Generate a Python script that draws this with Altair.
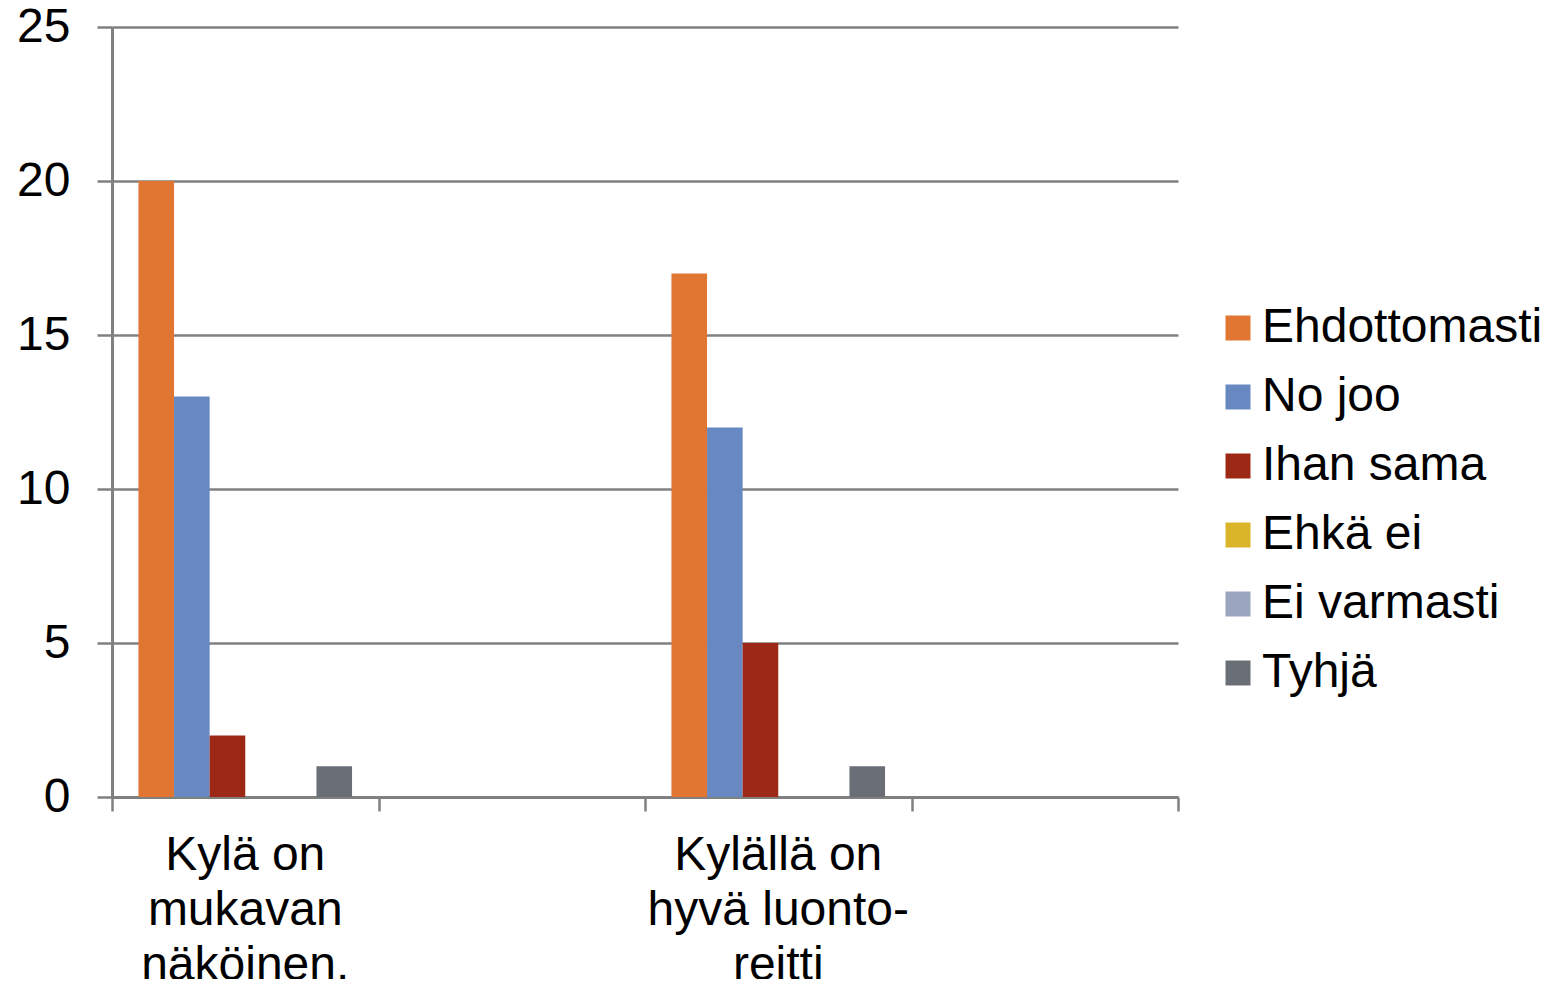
import altair as alt
import pandas as pd

# Category slots (two empty slots as in the original Excel chart), lines split by "|"
categories = ["Kylä on|mukavan|näköinen.", " ", "Kylällä on|hyvä luonto-|reitti", "  "]
series = ["Ehdottomasti", "No joo", "Ihan sama", "Ehkä ei", "Ei varmasti", "Tyhjä"]
colors = ["#E07632", "#6888C1", "#9E2816", "#DAB52A", "#9BA5BF", "#6A6F77"]
values_cat1 = [20, 13, 2, 0, 0, 1]
values_cat2 = [17, 12, 5, 0, 0, 1]
slot_edges = [0, 1, 2, 3, 4]

rows = []
for s, v in zip(series, values_cat1):
    rows.append({"cat": categories[0], "series": s, "value": v})
for s, v in zip(series, values_cat2):
    rows.append({"cat": categories[2], "series": s, "value": v})
df = pd.DataFrame(rows)
edges_df = pd.DataFrame({"edge": slot_edges})

FONT = "Liberation Sans"
GREY = "#808080"
FS = 48

bars = alt.Chart(df).mark_bar().encode(
    x=alt.X("cat:N", sort=categories,
            scale=alt.Scale(domain=categories, paddingInner=0, paddingOuter=0),
            axis=alt.Axis(title=None, labelAngle=0, domain=False, ticks=False, grid=False,
                          labelExpr="split(datum.label, '|')",
                          labelFont=FONT, labelFontSize=FS, labelColor="black",
                          labelBaseline="top", labelLineHeight=55, labelPadding=34,
                          labelLimit=400, orient="bottom")),
    xOffset=alt.XOffset("series:N", sort=series,
                        scale=alt.Scale(domain=series, paddingInner=0, paddingOuter=0.743)),
    y=alt.Y("value:Q",
            scale=alt.Scale(domain=[0, 25], nice=False, zero=True),
            axis=alt.Axis(title=None, values=[0, 5, 10, 15, 20, 25],
                          grid=True, gridColor=GREY, gridWidth=2.5,
                          domainColor=GREY, domainWidth=3,
                          tickColor=GREY, tickWidth=2.5, tickSize=15,
                          labelFont=FONT, labelFontSize=FS, labelColor="black",
                          labelPadding=27)),
    color=alt.Color("series:N", sort=series,
                    scale=alt.Scale(domain=series, range=colors),
                    legend=alt.Legend(title=None, orient="none", legendX=1102, legendY=277,
                                      symbolType="square", symbolSize=625,
                                      symbolStrokeWidth=0, labelFont=FONT, labelFontSize=FS,
                                      labelColor="black", labelLimit=500, labelOffset=0,
                                      rowPadding=21, padding=0)),
)

edge_axis = alt.Chart(edges_df).mark_rule(opacity=0).encode(
    x=alt.X("edge:Q", scale=alt.Scale(domain=[0, 4], nice=False, zero=False),
            axis=alt.Axis(title=None, orient="bottom", values=slot_edges, labels=False,
                          grid=False, domainColor=GREY, domainWidth=3,
                          tickColor=GREY, tickWidth=2.5, tickSize=14)),
)

chart = alt.layer(bars, edge_axis).resolve_scale(x="independent").properties(
    width=1066, height=770,
    autosize=alt.AutoSizeParams(type="none"),
    padding={"left": 104, "top": 19, "right": 363, "bottom": 182},
).configure_view(stroke=None)

chart.save("out.html", embed_options={"renderer": "svg", "actions": False})
